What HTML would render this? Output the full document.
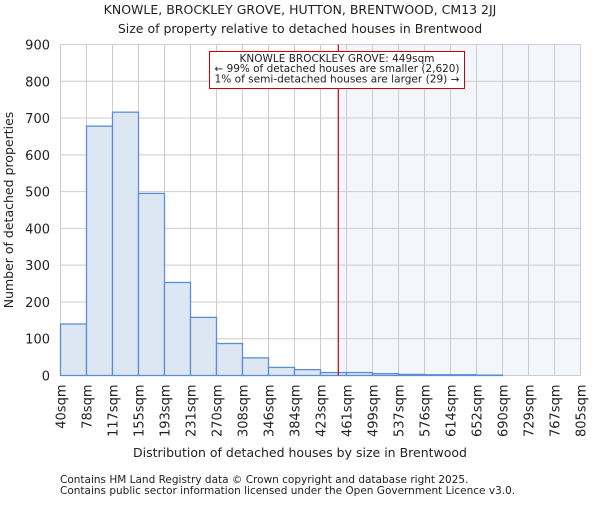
<!DOCTYPE html>
<html><head><meta charset="utf-8"><style>
body{margin:0;background:#fff}
svg text{font-family:"DejaVu Sans","Liberation Sans",sans-serif;fill:#222}
</style></head><body>
<svg id="chart" width="600" height="500" xmlns="http://www.w3.org/2000/svg">
<text x="300" y="14" text-anchor="middle" font-size="12.5">KNOWLE, BROCKLEY GROVE, HUTTON, BRENTWOOD, CM13 2JJ</text>
<text x="300" y="33" text-anchor="middle" font-size="12.5">Size of property relative to detached houses in Brentwood</text>
<g id="plot"></g>
<text x="300" y="457" text-anchor="middle" font-size="12.5">Distribution of detached houses by size in Brentwood</text>
<text transform="translate(13,210) rotate(-90)" text-anchor="middle" font-size="12.5">Number of detached properties</text>
<text x="60" y="483" font-size="10.5" fill="#555">Contains HM Land Registry data © Crown copyright and database right 2025.</text>
<text x="60" y="494" font-size="10.5" fill="#555">Contains public sector information licensed under the Open Government Licence v3.0.</text>
</svg>
<script>
const binLabels=["40sqm","78sqm","117sqm","155sqm","193sqm","231sqm","270sqm","308sqm","346sqm","384sqm","423sqm","461sqm","499sqm","537sqm","576sqm","614sqm","652sqm","690sqm","729sqm","767sqm","805sqm"];
const binEdges=[40,78,117,155,193,231,270,308,346,384,423,461,499,537,576,614,652,690,729,767,805];
const counts=[140,678,716,495,253,158,87,48,22,16,8,8,5,3,2,2,1,0,0,0];
const yTicks=[0,100,200,300,400,500,600,700,800,900];
const propertySize=449;
const annotationLines=["KNOWLE BROCKLEY GROVE: 449sqm","← 99% of detached houses are smaller (2,620)","1% of semi-detached houses are larger (29) →"];

const NS="http://www.w3.org/2000/svg";
const L=60.5,R=580.5,T=44.5,B=375.5,yMax=900;
const nb=counts.length;
const xi=i=>L+(R-L)*i/nb;
const xv=v=>{for(let i=0;i<nb;i++){if(v<=binEdges[i+1])return xi(i)+(v-binEdges[i])/(binEdges[i+1]-binEdges[i])*(xi(i+1)-xi(i));}return R;};
const y=v=>B-(B-T)*v/yMax;
const g=document.getElementById('plot');
function mk(tag,attrs){const e=document.createElementNS(NS,tag);for(const k in attrs)e.setAttribute(k,attrs[k]);g.appendChild(e);return e;}
let e;
e=mk('rect',{x:L,y:T,width:R-L,height:B-T,fill:'#fff'});


const px=xv(propertySize);
e=mk('rect',{x:px,y:T,width:R-px,height:B-T,fill:'#f3f6fd'});


yTicks.forEach(t=>{
 e=mk('line',{x1:L,x2:R,y1:y(t),y2:y(t),stroke:'#cccccc','stroke-width':1});
 
 
 e=mk('text',{x:50,y:y(t)+5,'text-anchor':'end','font-size':13});
 e.textContent=t;
 
 
});
binLabels.forEach((lb,i)=>{
 e=mk('line',{x1:xi(i),x2:xi(i),y1:T,y2:B,stroke:'#cccccc','stroke-width':1});
 
 
 e=mk('text',{transform:`translate(${xi(i)+5},${B+9}) rotate(-90)`,'text-anchor':'end','font-size':13});
 e.textContent=lb;
 
 
});
counts.forEach((c,i)=>{
 if(c<=0)return;
 e=mk('rect',{x:xi(i),y:y(c),width:xi(i+1)-xi(i),height:B-y(c),fill:'#dde6f3',stroke:'#5b8fd4','stroke-width':1.3});
 
 
});
e=mk('line',{x1:px,x2:px,y1:T,y2:B,stroke:'#cc0000','stroke-width':1.2});


e=mk('rect',{x:209.5,y:51.5,width:255,height:37,fill:'#fff',stroke:'#cc0000','stroke-width':1});


annotationLines.forEach((t,i)=>{
 e=mk('text',{x:337,y:62+i*10.2,'text-anchor':'middle','font-size':10.3,textLength:i==0?195:(i==1?245:245),lengthAdjust:'spacingAndGlyphs'});
 e.textContent=t;
 
 
});
</script>
</body></html>
